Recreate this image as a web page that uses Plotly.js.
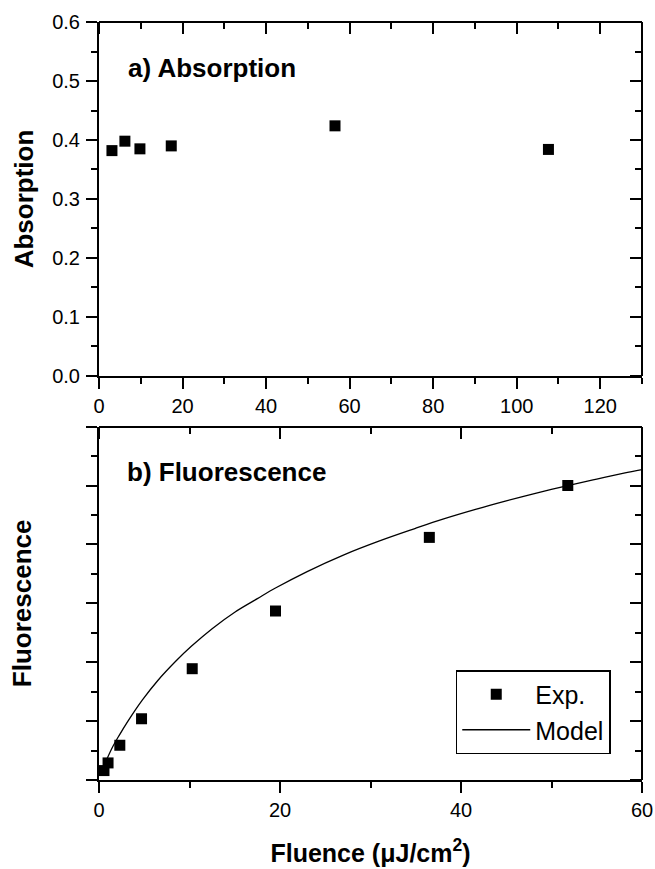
<!DOCTYPE html>
<html>
<head>
<meta charset="utf-8">
<script src="https://cdn.plot.ly/plotly-3.0.1.min.js"></script>
<style>html,body{margin:0;padding:0;background:#fff;}#chart{width:655px;height:869px;}</style>
</head>
<body>
<div id="chart"></div>
<script>
// Panel a) Absorption
const absFluence = [3.1, 6.2, 9.8, 17.3, 56.5, 107.6];
const absorption = [0.382, 0.398, 0.385, 0.390, 0.424, 0.384];

// Panel b) Fluorescence (experiment)
const fluFluence = [0.55, 1.0, 2.3, 4.7, 10.3, 19.5, 36.5, 51.8];
const fluorescence = [0.16, 0.29, 0.59, 1.04, 1.89, 2.87, 4.12, 5.0];

// Panel b) Model curve (read off the picture)
const modelFluence = [0.4, 0.8, 1.5, 2.2, 3.2, 4.8, 6.5, 8.5, 10.2, 12.5, 15, 17.5, 19.5, 23, 27, 31, 34.9, 38, 41.7, 45, 48, 51.8, 55, 58, 60];
const modelValue   = [0.19, 0.33, 0.56, 0.75, 1.00, 1.36, 1.69, 2.02, 2.27, 2.57, 2.85, 3.08, 3.26, 3.54, 3.82, 4.06, 4.27, 4.43, 4.60, 4.74, 4.86, 5.00, 5.11, 5.21, 5.27];

// Labels
const panelA = 'a) Absorption';
const panelB = 'b) Fluorescence';
const absTitle = 'Absorption';
const fluTitle = 'Fluorescence';
const xTitle = 'Fluence (μJ/cm<sup>2</sup>)';
const legendNames = ['Exp.', 'Model'];

const FONT = 'Liberation Sans, Arial, Helvetica, sans-serif';
const black = '#000';

function baseAxis(extra) {
  return Object.assign({
    showline: true, linecolor: black, linewidth: 2,
    ticks: 'outside', ticklen: 11, tickwidth: 2, tickcolor: black,
    showgrid: false, zeroline: false, automargin: false,
    tickfont: {family: FONT, size: 20, color: black}
  }, extra);
}
function minorTicks(d, dir) {
  return {dtick: d, ticks: dir, ticklen: 6, tickwidth: 2, tickcolor: black};
}

const traces = [
  {x: absFluence, y: absorption, xaxis: 'x', yaxis: 'y', type: 'scatter', mode: 'markers',
   marker: {symbol: 'square', size: 11, color: black}, showlegend: false},
  {x: fluFluence, y: fluorescence, xaxis: 'x2', yaxis: 'y2', type: 'scatter', mode: 'markers',
   name: legendNames[0], marker: {symbol: 'square', size: 11, color: black}},
  {x: modelFluence, y: modelValue, xaxis: 'x2', yaxis: 'y2', type: 'scatter', mode: 'lines',
   name: legendNames[1], line: {color: black, width: 1.3, shape: 'spline', smoothing: 1}},
  // empty traces that activate the frame axes (top and right, ticks pointing inward)
  {x: [], y: [], xaxis: 'x3', yaxis: 'y3', type: 'scatter', mode: 'markers', showlegend: false, hoverinfo: 'skip'},
  {x: [], y: [], xaxis: 'x4', yaxis: 'y4', type: 'scatter', mode: 'markers', showlegend: false, hoverinfo: 'skip'}
];

const topDomain = [0.533, 1];
const botDomain = [0, 0.4661];

const layout = {
  width: 655, height: 869,
  margin: {l: 99, r: 13, t: 22, b: 89},
  paper_bgcolor: '#fff', plot_bgcolor: 'rgba(0,0,0,0)',
  font: {family: FONT, color: black},
  showlegend: true,
  xaxis: baseAxis({anchor: 'y', range: [0, 130], dtick: 20, tick0: 0, minor: minorTicks(10, 'outside')}),
  yaxis: baseAxis({anchor: 'x', domain: topDomain, range: [0, 0.6], dtick: 0.1, tick0: 0, tickformat: '.1f',
    ticklabelstandoff: 2, minor: minorTicks(0.05, 'outside'),
    title: {text: absTitle, font: {family: FONT, size: 26, weight: 'bold', color: black}, standoff: 11}}),
  // top frame: a bottom-side axis placed at the top edge, so its "outside" ticks point into the plot
  xaxis3: baseAxis({overlaying: 'x', anchor: 'free', position: topDomain[1], side: 'bottom',
    range: [0, 130], dtick: 20, tick0: 0, ticks: 'outside', showticklabels: false,
    minor: minorTicks(10, 'outside')}),
  yaxis3: baseAxis({overlaying: 'y', anchor: 'free', position: 1, side: 'left',
    range: [0, 0.6], dtick: 0.1, tick0: 0, ticks: 'outside', showticklabels: false,
    minor: minorTicks(0.05, 'outside')}),

  xaxis2: baseAxis({anchor: 'y2', range: [0, 60], dtick: 20, tick0: 0, minor: minorTicks(10, 'outside'),
    title: {text: xTitle, font: {family: FONT, size: 25, weight: 'bold', color: black}, standoff: 24}}),
  yaxis2: baseAxis({anchor: 'x2', domain: botDomain, range: [0, 6], dtick: 1, tick0: 0,
    showticklabels: false, minor: minorTicks(0.5, 'outside'),
    title: {text: fluTitle, font: {family: FONT, size: 26, weight: 'bold', color: black}, standoff: 47}}),
  xaxis4: baseAxis({overlaying: 'x2', anchor: 'free', position: botDomain[1], side: 'bottom',
    range: [0, 60], dtick: 20, tick0: 0, ticks: 'outside', showticklabels: false,
    minor: minorTicks(10, 'outside')}),
  yaxis4: baseAxis({overlaying: 'y2', anchor: 'free', position: 1, side: 'left',
    range: [0, 6], dtick: 1, tick0: 0, ticks: 'outside', showticklabels: false,
    minor: minorTicks(0.5, 'outside')}),

  legend: {x: 0.657, y: 0.1451, xanchor: 'left', yanchor: 'top',
    bordercolor: black, borderwidth: 1.5, bgcolor: '#fff',
    font: {family: FONT, size: 25, color: black}, itemwidth: 68, tracegroupgap: 0},

  annotations: [
    {text: '<b>' + panelA + '</b>', xref: 'paper', yref: 'paper', x: 0.049, y: 0.939,
     xanchor: 'left', yanchor: 'middle', showarrow: false, font: {family: FONT, size: 26, color: black}},
    {text: '<b>' + panelB + '</b>', xref: 'paper', yref: 'paper', x: 0.048, y: 0.4057,
     xanchor: 'left', yanchor: 'middle', showarrow: false, font: {family: FONT, size: 26, color: black}}
  ]
};

Plotly.newPlot('chart', traces, layout, {staticPlot: true, displayModeBar: false});
</script>
</body>
</html>
